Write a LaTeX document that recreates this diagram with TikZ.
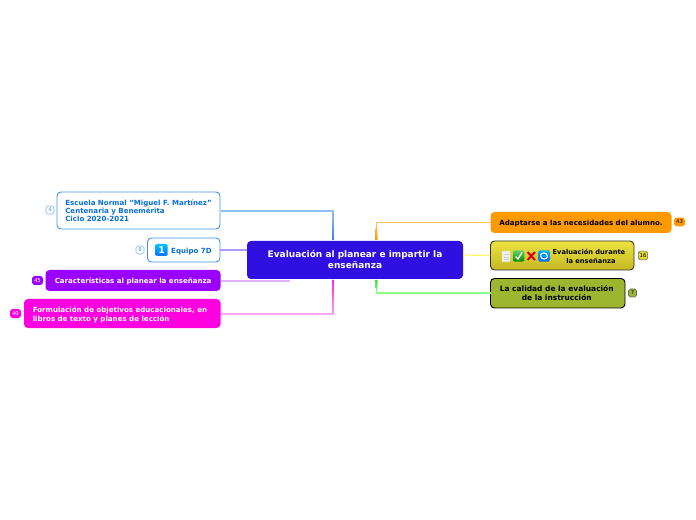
\documentclass[tikz,border=0pt]{standalone}
\usepackage{fontspec}
\setmainfont{DejaVu Sans}
\definecolor{bl}{HTML}{3F94EA}
\definecolor{blt}{HTML}{0A6FD8}
\definecolor{pur}{HTML}{9900FF}
\definecolor{mag}{HTML}{FF00E1}
\definecolor{cen}{HTML}{3010E0}
\definecolor{ora}{HTML}{FF9900}
\definecolor{oli}{HTML}{9DB52F}
\definecolor{yel1}{HTML}{EDE33F}
\definecolor{yel2}{HTML}{C4B824}
\definecolor{vblue}{HTML}{3A7CFF}
\tikzset{
 x=0.75pt,y=-0.75pt,
 topic/.style={rounded corners=3pt,inner sep=0pt,font=\fontsize{5.3pt}{6.3pt}\selectfont\bfseries},
 badge/.style={rounded corners=1.4pt,inner sep=0pt,font=\fontsize{4pt}{4pt}\selectfont},
 link/.style={line width=0.9pt},
}
\newcommand{\boxnode}[7]{% name, x0,y0,x1,y1, style, text
 \node[topic,#6,minimum width={(#4-#2)*0.75pt},minimum height={(#5-#3)*0.75pt}] (#1) at ({(#2+#4)/2},{(#3+#5)/2}) {\makebox[0pt]{\raisebox{-2.3pt}[0pt][0pt]{#7}}};}
\begin{document}
\begin{tikzpicture}
\useasboundingbox (0,0) rectangle (696,520);
% nodes
\boxnode{center}{247}{241}{463}{279}{fill=cen,text=white,font=\fontsize{6.75pt}{8.7pt}\selectfont\bfseries}{\begin{tabular}{@{}c@{}}Evaluación al planear e impartir la\\enseñanza\end{tabular}}
\boxnode{school}{57}{192}{220}{229}{draw=bl,line width=0.7pt,fill=white,text=blt}{\begin{tabular}{@{}l@{}}Escuela Normal "Miguel F. Martínez"\\Centenaria y Benemérita\\Ciclo 2020-2021\end{tabular}}
\boxnode{equipo}{147.5}{238}{220}{262}{draw=bl,line width=0.7pt,fill=white,text=blt}{\hspace*{11.6pt}Equipo 7D}
\boxnode{carac}{45.5}{270}{220.5}{291}{fill=pur,text=white}{\hspace*{0.2pt}Características al planear la enseñanza}
\boxnode{formu}{24}{299}{220.5}{328}{fill=mag,text=white,font=\fontsize{5.3pt}{6.9pt}\selectfont\bfseries}{\begin{tabular}{@{}l@{}}Formulación de objetivos educacionales, en\\libros de texto y planes de lección\end{tabular}\hspace*{3.5pt}}
\boxnode{adapt}{490.5}{212}{671.5}{233}{fill=ora,text=black}{Adaptarse a las necesidades del alumno.}
\boxnode{durante}{490.5}{241}{634}{270}{draw=black!80,line width=0.7pt,top color=yel1,bottom color=yel2,text=black,font=\fontsize{5pt}{6.6pt}\selectfont\bfseries}{\hspace*{40pt}\begin{tabular}{@{}c@{}}Evaluación durante\\\hspace*{3pt}la enseñanza\end{tabular}}
\boxnode{calidad}{490.5}{278.5}{625}{308}{draw=black,line width=0.7pt,fill=oli,text=black,font=\fontsize{5.6pt}{6.9pt}\selectfont\bfseries}{\hspace*{-1.5pt}\begin{tabular}{@{}c@{}}La calidad de la evaluación\\de la instrucción\end{tabular}}
% connector ends
\coordinate (c1) at (333,240);
\coordinate (c2) at (246.5,250);
\coordinate (c3) at (289,280);
\coordinate (c4) at (333,280);
\coordinate (c5) at (376.5,240);
\coordinate (c6) at (463.5,255);
\coordinate (c7) at (376.5,280);
\coordinate (s1) at (220.5,211);
\coordinate (s3) at (220.5,281);
\coordinate (s4) at (220.5,314);
\coordinate (s5) at (490.5,222.5);
\coordinate (s7) at (490.5,293);
% connectors
\draw[link,color=bl!60] (s1) -| (c1);
\shade[bottom color=vblue,top color=bl!60] (332.4,211) -- (333.5,211) -- (334,240) -- (332,240) -- cycle;
\draw[link,color=pur!35!blue!40] (equipo.east) -- (c2);
\draw[link,color=pur!30] (s3) -| (c3);
\draw[link,color=mag!35] (s4) -| (c4);
\shade[top color=mag!85,bottom color=mag!40] (332,280) -- (334,280) -- (333.5,314) -- (332.5,314) -- cycle;
\draw[link,color=ora!60] (s5) -| (c5);
\shade[bottom color=ora,top color=ora!60] (376,222.5) -- (377,222.5) -- (377.7,240) -- (375.3,240) -- cycle;
\draw[link,color=yellow!60!white] (durante.west) -- (c6);
\draw[link,color=green!45!white] (s7) -| (c7);
\shade[top color=green!85!black!80!white,bottom color=green!45!white] (375.3,280) -- (377.7,280) -- (377,293) -- (376,293) -- cycle;
% Equipo icon
\node[rounded corners=1pt,top color=cyan!75!blue,bottom color=blue!55!cyan,minimum size=9pt,inner sep=0pt,text=white,font=\fontsize{7pt}{7pt}\selectfont\bfseries] (one) at (161.5,250) {1};
% icons in durante
\node[rounded corners=0.5pt,fill=white!88!gray,draw=gray!30,line width=0.3pt,minimum width=6pt,minimum height=8pt,inner sep=0pt] (note) at (506,256.5) {};
\draw[gray!40,line width=0.4pt] (503.5,254) -- (508.5,254) (503.5,257) -- (508.5,257) (503.5,259.5) -- (508.5,259.5);
\node[rounded corners=1pt,top color=green!70!black!60!white,bottom color=green!55!black,minimum size=8.5pt,inner sep=0pt] (chk) at (518.7,256) {};
\draw[white,line width=1pt] (515.5,256.5) -- (518,259) -- (522,252.5);
\node[minimum size=8pt,inner sep=0pt] (crs) at (531.3,256) {};
\draw[red!85!black,line width=1.5pt] (527.5,252) -- (535,260) (535,252) -- (527.5,260);
\node[rounded corners=1pt,top color=cyan!70!blue,bottom color=blue!60!cyan,minimum size=8.5pt,inner sep=0pt] (rfr) at (544,256) {};
\draw[white,line width=0.8pt] (540.5,255.5) arc (180:20:3.6);
\draw[white,line width=0.8pt] (547.5,256.5) arc (0:-160:3.6);
% badges
\node[badge,draw=bl!70,line width=0.4pt,fill=white,text=bl,minimum width=6pt,minimum height=6pt] (b1) at (50,210) {4};
\node[badge,draw=bl!70,line width=0.4pt,fill=white,text=bl,minimum width=6pt,minimum height=6pt] (b2) at (140,250) {8};
\node[badge,fill=pur,text=white,minimum width=8.2pt,minimum height=6.5pt] (b3) at (37.5,280.5) {45};
\node[badge,fill=mag,text=white,minimum width=8.2pt,minimum height=6.5pt] (b4) at (15.5,313.5) {40};
\node[badge,fill=ora,text=black,minimum width=8.2pt,minimum height=6.5pt] (b5) at (679.5,222) {43};
\node[badge,draw=black!60,line width=0.4pt,fill=yel1!80!yel2,text=black,minimum width=7pt,minimum height=6.5pt] (b6) at (643,255.5) {16};
\node[badge,draw=black!60,line width=0.4pt,fill=oli,text=black,minimum width=6pt,minimum height=6pt] (b7) at (632.5,293) {7};
\end{tikzpicture}
\end{document}
